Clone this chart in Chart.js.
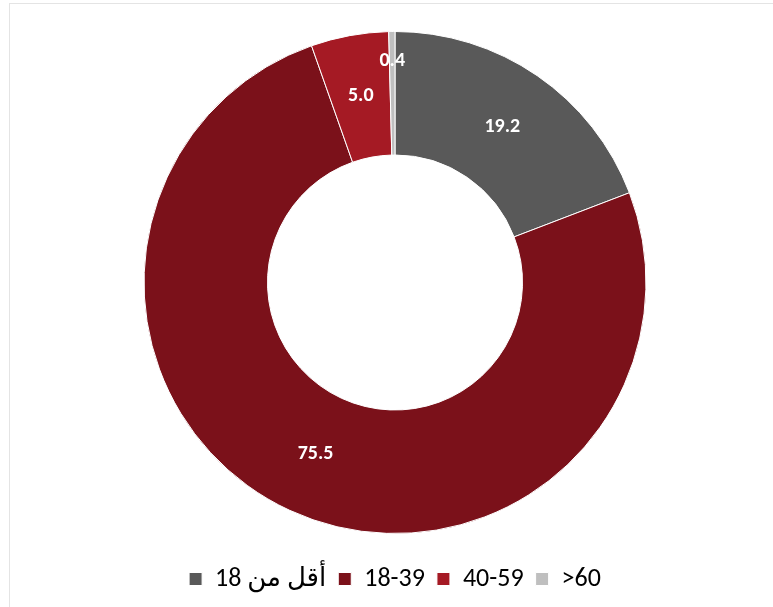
<!DOCTYPE html>
<html>
<head>
<meta charset="utf-8">
<script src="https://cdn.jsdelivr.net/npm/chart.js@4"></script>
<style>
  html, body { margin: 0; padding: 0; background: #fff; overflow: hidden; }
  #frame { position: absolute; left: 9px; top: 3px; width: 800px; height: 700px; border: 1px solid #e4e4e4; }
  #wrap { position: absolute; left: 0; top: 0; width: 773px; height: 607px; }
</style>
</head>
<body>
<div id="frame"></div>
<div id="wrap"><canvas id="plot" width="773" height="607"></canvas></div>
<script>
// categories and values
let categorias = ['أقل من 18', '18-39', '40-59', '>60']
let valores = [19.2, 75.5, 5.0, 0.4]
let colores = ['#595959', '#7B111A', '#A51A24', '#BFBFBF']

// plugin para escribir los valores dentro de cada segmento
let etiquetasPlugin = {
  id: 'etiquetas',
  afterDatasetsDraw(chart) {
    let ctx = chart.ctx
    let meta = chart.getDatasetMeta(0)
    ctx.save()
    ctx.fillStyle = '#ffffff'
    ctx.font = 'bold 20px Calibri, "Liberation Sans", Arial, sans-serif'
    ctx.textAlign = 'center'
    ctx.textBaseline = 'middle'
    meta.data.forEach((arc, i) => {
      let p = arc.getProps(['x', 'y', 'startAngle', 'endAngle', 'innerRadius', 'outerRadius'], true)
      let ang = (p.startAngle + p.endAngle) / 2
      let r = (p.innerRadius + p.outerRadius) / 2
      // segmento muy pequeño: etiqueta más afuera
      if (valores[i] < 1) r = p.innerRadius + (p.outerRadius - p.innerRadius) * 0.76
      let x = p.x + Math.cos(ang) * r
      let y = p.y + Math.sin(ang) * r
      ctx.fillText(valores[i].toFixed(1), x, y)
    })
    ctx.restore()
  }
}

let plotRef = document.getElementById('plot')

let config = {
  type: 'doughnut',
  data: {
    labels: categorias,
    datasets: [{
      data: valores,
      backgroundColor: colores,
      borderColor: '#ffffff',
      borderWidth: 1
    }]
  },
  options: {
    responsive: false,
    animation: false,
    cutout: '50.8%',
    radius: 251,
    layout: { padding: { top: 11, left: 17, right: 0, bottom: 5 } },
    plugins: {
      tooltip: { enabled: false },
      legend: {
        position: 'bottom',
        labels: {
          color: '#000000',
          boxWidth: 13,
          boxHeight: 13,
          padding: 12,
          font: { size: 26, family: 'Calibri, "Liberation Sans", "DejaVu Sans", Arial, sans-serif' }
        }
      }
    }
  },
  plugins: [etiquetasPlugin]
}

let chart1 = new Chart(plotRef, config)
</script>
</body>
</html>
